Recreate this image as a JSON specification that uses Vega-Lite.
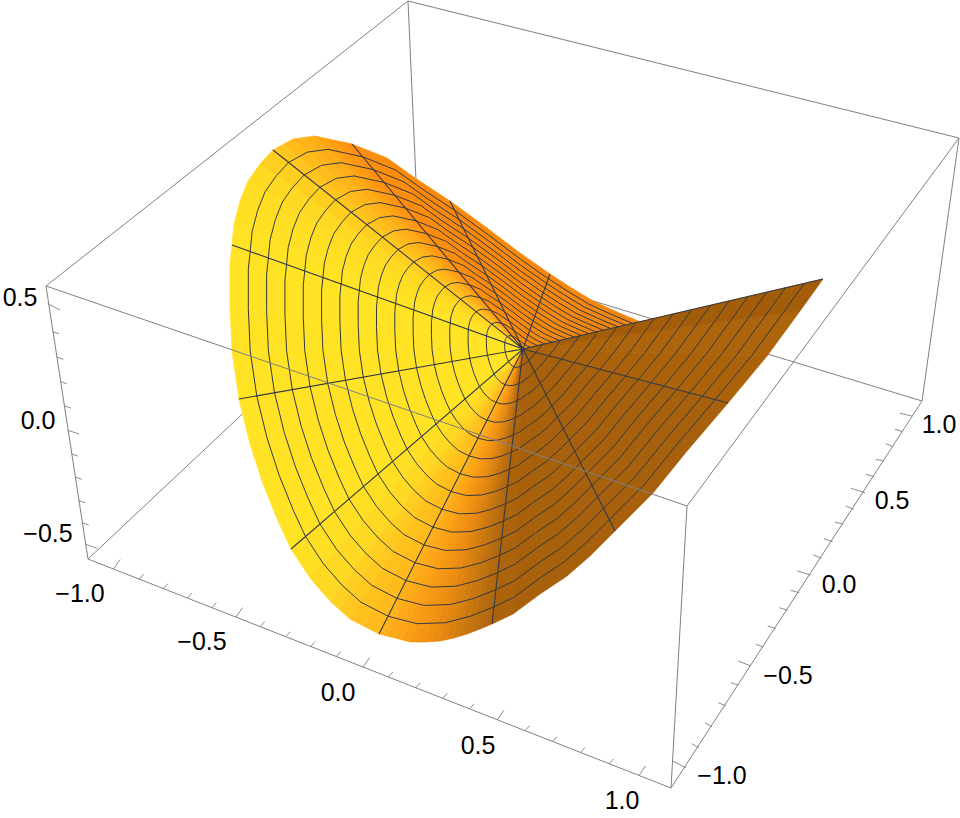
{"$schema":"https://vega.github.io/schema/vega-lite/v6.json","width":960,"height":818,"padding":0,"background":"white","config":{"view":{"stroke":null}},
"datasets":{
"ring":[{"type":"Feature","properties":{},"geometry":{"type":"LineString","coordinates":[[117,-27.3],[94,-37],[70,-48],[47,-62],[27,-75],[-3,-96],[-36,-121],[-73,-148],[-108,-171],[-136,-191],[-171,-205],[-208,-213],[-230,-210],[-250,-199],[-263,-185],[-275,-168],[-283,-148],[-289,-125],[-291,-104],[-293,-85],[-293,-43],[-291,2],[-284,50],[-273,95],[-260,135],[-245,172],[-232,200],[-213,229],[-193,252],[-173,270],[-144,285],[-113,293],[-83,292],[-56,285],[-31,275],[-10,265],[17,245],[44,227],[67,207],[92,182],[130,144],[164,102],[205,54],[244,7],[277,-38],[300,-70]]}}],
"spokes":[{"type":"Feature","properties":{},"geometry":{"type":"MultiLineString","coordinates":[[[0,0],[27,-75]],[[0,0],[-73,-148]],[[0,0],[-171,-205]],[[0,0],[-250,-199]],[[0,0],[-291,-104]],[[0,0],[-284,50]],[[0,0],[-232,200]],[[0,0],[-144,285]],[[0,0],[-31,275]],[[0,0],[92,182]],[[0,0],[205,54]],[[0,0],[300,-70]]]}}],
"wedges":[
{"type":"Feature","properties":{"c":"#F08510"},"geometry":{"type":"Polygon","coordinates":[[[0,0],[117,-27.3],[94,-37],[0,0]]]}},
{"type":"Feature","properties":{"c":"#F2860F"},"geometry":{"type":"Polygon","coordinates":[[[0,0],[94,-37],[70,-48],[0,0]]]}},
{"type":"Feature","properties":{"c":"#F4870E"},"geometry":{"type":"Polygon","coordinates":[[[0,0],[70,-48],[47,-62],[0,0]]]}},
{"type":"Feature","properties":{"c":"#F5870D"},"geometry":{"type":"Polygon","coordinates":[[[0,0],[47,-62],[27,-75],[0,0]]]}},
{"type":"Feature","properties":{"c":"#F7880C"},"geometry":{"type":"Polygon","coordinates":[[[0,0],[27,-75],[-3,-96],[0,0]]]}},
{"type":"Feature","properties":{"c":"#F8880C"},"geometry":{"type":"Polygon","coordinates":[[[0,0],[-3,-96],[-36,-121],[0,0]]]}},
{"type":"Feature","properties":{"c":"#F9880B"},"geometry":{"type":"Polygon","coordinates":[[[0,0],[-36,-121],[-73,-148],[0,0]]]}},
{"type":"Feature","properties":{"c":"#FA890B"},"geometry":{"type":"Polygon","coordinates":[[[0,0],[-73,-148],[-108,-171],[0,0]]]}},
{"type":"Feature","properties":{"c":"#FB8A0B"},"geometry":{"type":"Polygon","coordinates":[[[0,0],[-108,-171],[-136,-191],[0,0]]]}},
{"type":"Feature","properties":{"c":"#FD8D0C"},"geometry":{"type":"Polygon","coordinates":[[[0,0],[-136,-191],[-171,-205],[0,0]]]}},
{"type":"Feature","properties":{"c":"#FE900D"},"geometry":{"type":"Polygon","coordinates":[[[0,0],[-171,-205],[-180.5,-207],[0,0]]]}},
{"type":"Feature","properties":{"c":"#FF960F"},"geometry":{"type":"Polygon","coordinates":[[[0,0],[-180.5,-207],[-190,-209],[0,0]]]}},
{"type":"Feature","properties":{"c":"#FF9D11"},"geometry":{"type":"Polygon","coordinates":[[[0,0],[-190,-209],[-199,-211],[0,0]]]}},
{"type":"Feature","properties":{"c":"#FFA514"},"geometry":{"type":"Polygon","coordinates":[[[0,0],[-199,-211],[-208,-213],[0,0]]]}},
{"type":"Feature","properties":{"c":"#FFAD16"},"geometry":{"type":"Polygon","coordinates":[[[0,0],[-208,-213],[-219,-211.5],[0,0]]]}},
{"type":"Feature","properties":{"c":"#FFB519"},"geometry":{"type":"Polygon","coordinates":[[[0,0],[-219,-211.5],[-230,-210],[0,0]]]}},
{"type":"Feature","properties":{"c":"#FFBC1B"},"geometry":{"type":"Polygon","coordinates":[[[0,0],[-230,-210],[-240,-204.5],[0,0]]]}},
{"type":"Feature","properties":{"c":"#FFC41E"},"geometry":{"type":"Polygon","coordinates":[[[0,0],[-240,-204.5],[-250,-199],[0,0]]]}},
{"type":"Feature","properties":{"c":"#FFCF20"},"geometry":{"type":"Polygon","coordinates":[[[0,0],[-250,-199],[-263,-185],[0,0]]]}},
{"type":"Feature","properties":{"c":"#FFD822"},"geometry":{"type":"Polygon","coordinates":[[[0,0],[-263,-185],[-275,-168],[0,0]]]}},
{"type":"Feature","properties":{"c":"#FFDD23"},"geometry":{"type":"Polygon","coordinates":[[[0,0],[-275,-168],[-283,-148],[0,0]]]}},
{"type":"Feature","properties":{"c":"#FFE024"},"geometry":{"type":"Polygon","coordinates":[[[0,0],[-283,-148],[-289,-125],[0,0]]]}},
{"type":"Feature","properties":{"c":"#FFE324"},"geometry":{"type":"Polygon","coordinates":[[[0,0],[-289,-125],[-291,-104],[-293,-85],[-293,-43],[-291,2],[-284,50],[-273,95],[-260,135],[-245,172],[-232,200],[0,0]]]}},
{"type":"Feature","properties":{"c":"#FFDF24"},"geometry":{"type":"Polygon","coordinates":[[[0,0],[-232,200],[-213,229],[0,0]]]}},
{"type":"Feature","properties":{"c":"#FFD823"},"geometry":{"type":"Polygon","coordinates":[[[0,0],[-213,229],[-193,252],[0,0]]]}},
{"type":"Feature","properties":{"c":"#FFCF21"},"geometry":{"type":"Polygon","coordinates":[[[0,0],[-193,252],[-183,261],[0,0]]]}},
{"type":"Feature","properties":{"c":"#FFC91F"},"geometry":{"type":"Polygon","coordinates":[[[0,0],[-183,261],[-173,270],[0,0]]]}},
{"type":"Feature","properties":{"c":"#FFC11E"},"geometry":{"type":"Polygon","coordinates":[[[0,0],[-173,270],[-158.5,277.5],[0,0]]]}},
{"type":"Feature","properties":{"c":"#FFBA1C"},"geometry":{"type":"Polygon","coordinates":[[[0,0],[-158.5,277.5],[-144,285],[0,0]]]}},
{"type":"Feature","properties":{"c":"#FEB11B"},"geometry":{"type":"Polygon","coordinates":[[[0,0],[-144,285],[-136,287],[0,0]]]}},
{"type":"Feature","properties":{"c":"#FDAA19"},"geometry":{"type":"Polygon","coordinates":[[[0,0],[-136,287],[-128,289],[0,0]]]}},
{"type":"Feature","properties":{"c":"#FCA517"},"geometry":{"type":"Polygon","coordinates":[[[0,0],[-128,289],[-120.5,291],[0,0]]]}},
{"type":"Feature","properties":{"c":"#FA9F15"},"geometry":{"type":"Polygon","coordinates":[[[0,0],[-120.5,291],[-113,293],[0,0]]]}},
{"type":"Feature","properties":{"c":"#F89913"},"geometry":{"type":"Polygon","coordinates":[[[0,0],[-113,293],[-105.5,293],[0,0]]]}},
{"type":"Feature","properties":{"c":"#F49412"},"geometry":{"type":"Polygon","coordinates":[[[0,0],[-105.5,293],[-98,293],[0,0]]]}},
{"type":"Feature","properties":{"c":"#EF9011"},"geometry":{"type":"Polygon","coordinates":[[[0,0],[-98,293],[-90.5,292.5],[0,0]]]}},
{"type":"Feature","properties":{"c":"#E98B11"},"geometry":{"type":"Polygon","coordinates":[[[0,0],[-90.5,292.5],[-83,292],[0,0]]]}},
{"type":"Feature","properties":{"c":"#E28610"},"geometry":{"type":"Polygon","coordinates":[[[0,0],[-83,292],[-76,290.5],[0,0]]]}},
{"type":"Feature","properties":{"c":"#DA8210"},"geometry":{"type":"Polygon","coordinates":[[[0,0],[-76,290.5],[-69,289],[0,0]]]}},
{"type":"Feature","properties":{"c":"#D37D0F"},"geometry":{"type":"Polygon","coordinates":[[[0,0],[-69,289],[-62.5,287],[0,0]]]}},
{"type":"Feature","properties":{"c":"#CB790F"},"geometry":{"type":"Polygon","coordinates":[[[0,0],[-62.5,287],[-56,285],[0,0]]]}},
{"type":"Feature","properties":{"c":"#C4740E"},"geometry":{"type":"Polygon","coordinates":[[[0,0],[-56,285],[-49.5,282.5],[0,0]]]}},
{"type":"Feature","properties":{"c":"#BC6F0E"},"geometry":{"type":"Polygon","coordinates":[[[0,0],[-49.5,282.5],[-43,280],[0,0]]]}},
{"type":"Feature","properties":{"c":"#B66A0D"},"geometry":{"type":"Polygon","coordinates":[[[0,0],[-43,280],[-37,277.5],[0,0]]]}},
{"type":"Feature","properties":{"c":"#B0660D"},"geometry":{"type":"Polygon","coordinates":[[[0,0],[-37,277.5],[-31,275],[0,0]]]}},
{"type":"Feature","properties":{"c":"#AB630C"},"geometry":{"type":"Polygon","coordinates":[[[0,0],[-31,275],[-10,265],[0,0]]]}},
{"type":"Feature","properties":{"c":"#A8600B"},"geometry":{"type":"Polygon","coordinates":[[[0,0],[-10,265],[17,245],[0,0]]]}},
{"type":"Feature","properties":{"c":"#A7600B"},"geometry":{"type":"Polygon","coordinates":[[[0,0],[17,245],[44,227],[67,207],[92,182],[130,144],[164,102],[205,54],[0,0]]]}},
{"type":"Feature","properties":{"c":"#AB620B"},"geometry":{"type":"Polygon","coordinates":[[[0,0],[205,54],[244,7],[0,0]]]}},
{"type":"Feature","properties":{"c":"#AD640A"},"geometry":{"type":"Polygon","coordinates":[[[0,0],[244,7],[277,-38],[0,0]]]}},
{"type":"Feature","properties":{"c":"#A35C08"},"geometry":{"type":"Polygon","coordinates":[[[0,0],[277,-38],[300,-70],[0,0]]]}}
],
"backEdges":[{"x":408,"y":0,"x2":419,"y2":247},{"x":419,"y":247,"x2":88,"y2":558},{"x":419,"y":247,"x2":922,"y2":400}],
"frontEdges":[{"x":46,"y":285,"x2":408,"y2":0},{"x":408,"y":0,"x2":959,"y2":137},{"x":46,"y":285,"x2":88,"y2":558},{"x":46,"y":285,"x2":687,"y2":505},{"x":687,"y":505,"x2":959,"y2":137},{"x":687,"y":505,"x2":671,"y2":787},{"x":88,"y":558,"x2":671,"y2":787},{"x":671,"y":787,"x2":922,"y2":400},{"x":922,"y":400,"x2":959,"y2":137}],
"ticks":[
{"x":47.7,"y":302.7,"x2":60,"y2":309},{"x":52.7,"y":330.7,"x2":59,"y2":332.7},{"x":56.7,"y":356,"x2":63.3,"y2":358.3},{"x":60.7,"y":380.7,"x2":66.7,"y2":382.7},{"x":64.3,"y":405,"x2":71,"y2":407},{"x":67.7,"y":429.3,"x2":79.3,"y2":433},{"x":71,"y":452.7,"x2":77.7,"y2":455},{"x":75,"y":476,"x2":81.7,"y2":478.3},{"x":78.3,"y":499.3,"x2":85,"y2":501.7},{"x":82,"y":521.7,"x2":88.7,"y2":524},{"x":85.7,"y":543.3,"x2":97.3,"y2":547.3},
{"x":113.6,"y":568,"x2":120.1,"y2":558.5},{"x":139.2,"y":578.1,"x2":143.7,"y2":573.1},{"x":163.3,"y":587.6,"x2":167.8,"y2":582.6},{"x":187.4,"y":597,"x2":191.9,"y2":592},{"x":211.9,"y":606.7,"x2":216.4,"y2":601.7},{"x":236,"y":616.1,"x2":242.5,"y2":606.6},{"x":260.2,"y":625.6,"x2":264.7,"y2":620.6},{"x":285.8,"y":635.7,"x2":290.3,"y2":630.7},{"x":310.7,"y":645.5,"x2":315.2,"y2":640.5},{"x":336.3,"y":655.5,"x2":340.8,"y2":650.5},{"x":363.1,"y":666.1,"x2":369.6,"y2":656.6},{"x":388.4,"y":676,"x2":392.9,"y2":671},{"x":415.9,"y":686.8,"x2":420.4,"y2":681.8},{"x":442.7,"y":697.3,"x2":447.2,"y2":692.3},{"x":469.5,"y":707.9,"x2":474,"y2":702.9},{"x":497.4,"y":718.8,"x2":503.9,"y2":709.3},{"x":525,"y":729.7,"x2":529.5,"y2":724.7},{"x":552.5,"y":740.5,"x2":557,"y2":735.5},{"x":580.5,"y":751.5,"x2":585,"y2":746.5},{"x":609.2,"y":762.7,"x2":613.7,"y2":757.7},{"x":639,"y":774.4,"x2":645.5,"y2":764.9},
{"x":686,"y":766.7,"x2":672.7,"y2":760},{"x":699,"y":746.7,"x2":691.7,"y2":742.7},{"x":711.7,"y":725.7,"x2":705,"y2":721.7},{"x":726,"y":705,"x2":718.3,"y2":701.7},{"x":738.3,"y":684,"x2":730.7,"y2":681.7},{"x":751,"y":665,"x2":738.3,"y2":660},{"x":763.3,"y":646,"x2":755.7,"y2":643.3},{"x":775.7,"y":627.3,"x2":767.7,"y2":625},{"x":787.7,"y":609.3,"x2":779.3,"y2":606.7},{"x":799.3,"y":591.7,"x2":790.7,"y2":589.3},{"x":810.7,"y":574,"x2":797.3,"y2":570},{"x":821.7,"y":557.3,"x2":813.3,"y2":554},{"x":832.7,"y":540.7,"x2":824,"y2":537.7},{"x":843.3,"y":523.3,"x2":835,"y2":521},{"x":854,"y":508.3,"x2":845.7,"y2":505},{"x":865,"y":491.7,"x2":851,"y2":487.3},{"x":874.3,"y":475.7,"x2":866,"y2":473.3},{"x":884,"y":460,"x2":876,"y2":458.3},{"x":893.3,"y":445.7,"x2":885.7,"y2":442.7},{"x":902.7,"y":430.7,"x2":895,"y2":428.3},{"x":911.7,"y":415,"x2":900,"y2":412.3}
],
"labels":[{"x":20,"y":297,"t":"0.5"},{"x":38,"y":420,"t":"0.0"},{"x":48,"y":533,"t":"−0.5"},{"x":80,"y":593,"t":"−1.0"},{"x":202,"y":641,"t":"−0.5"},{"x":338,"y":692,"t":"0.0"},{"x":478,"y":745,"t":"0.5"},{"x":622,"y":800,"t":"1.0"},{"x":939,"y":424,"t":"1.0"},{"x":892,"y":500,"t":"0.5"},{"x":839,"y":584,"t":"0.0"},{"x":788,"y":675,"t":"−0.5"},{"x":722,"y":775,"t":"−1.0"}]
},
"layer":[
{"data":{"name":"backEdges"},"mark":{"type":"rule","color":"#808080","strokeWidth":1},"encoding":{"x":{"field":"x","type":"quantitative","axis":null,"scale":{"domain":[0,960],"nice":false,"zero":false}},"y":{"field":"y","type":"quantitative","axis":null,"scale":{"domain":[0,818],"reverse":true,"nice":false,"zero":false}},"x2":{"field":"x2"},"y2":{"field":"y2"}}},
{"data":{"name":"wedges"},"mark":{"type":"geoshape","strokeWidth":0.7},"projection":{"type":"identity","scale":1,"translate":[523,348]},"encoding":{"fill":{"field":"properties.c","type":"nominal","scale":null,"legend":null},"stroke":{"field":"properties.c","type":"nominal","scale":null,"legend":null}}},
{"data":{"name":"ring"},"mark":{"type":"geoshape","filled":false,"stroke":"#333a44","strokeWidth":1},"projection":{"type":"identity","scale":0.0625,"translate":[523,348],"coefficient":1}},
{"data":{"name":"ring"},"mark":{"type":"geoshape","filled":false,"stroke":"#333a44","strokeWidth":1},"projection":{"type":"identity","scale":0.125,"translate":[523,348],"coefficient":2}},
{"data":{"name":"ring"},"mark":{"type":"geoshape","filled":false,"stroke":"#333a44","strokeWidth":1},"projection":{"type":"identity","scale":0.1875,"translate":[523,348],"coefficient":3}},
{"data":{"name":"ring"},"mark":{"type":"geoshape","filled":false,"stroke":"#333a44","strokeWidth":1},"projection":{"type":"identity","scale":0.25,"translate":[523,348],"coefficient":4}},
{"data":{"name":"ring"},"mark":{"type":"geoshape","filled":false,"stroke":"#333a44","strokeWidth":1},"projection":{"type":"identity","scale":0.3125,"translate":[523,348],"coefficient":5}},
{"data":{"name":"ring"},"mark":{"type":"geoshape","filled":false,"stroke":"#333a44","strokeWidth":1},"projection":{"type":"identity","scale":0.375,"translate":[523,348],"coefficient":6}},
{"data":{"name":"ring"},"mark":{"type":"geoshape","filled":false,"stroke":"#333a44","strokeWidth":1},"projection":{"type":"identity","scale":0.4375,"translate":[523,348],"coefficient":7}},
{"data":{"name":"ring"},"mark":{"type":"geoshape","filled":false,"stroke":"#333a44","strokeWidth":1},"projection":{"type":"identity","scale":0.5,"translate":[523,348],"coefficient":8}},
{"data":{"name":"ring"},"mark":{"type":"geoshape","filled":false,"stroke":"#333a44","strokeWidth":1},"projection":{"type":"identity","scale":0.5625,"translate":[523,348],"coefficient":9}},
{"data":{"name":"ring"},"mark":{"type":"geoshape","filled":false,"stroke":"#333a44","strokeWidth":1},"projection":{"type":"identity","scale":0.625,"translate":[523,348],"coefficient":10}},
{"data":{"name":"ring"},"mark":{"type":"geoshape","filled":false,"stroke":"#333a44","strokeWidth":1},"projection":{"type":"identity","scale":0.6875,"translate":[523,348],"coefficient":11}},
{"data":{"name":"ring"},"mark":{"type":"geoshape","filled":false,"stroke":"#333a44","strokeWidth":1},"projection":{"type":"identity","scale":0.75,"translate":[523,348],"coefficient":12}},
{"data":{"name":"ring"},"mark":{"type":"geoshape","filled":false,"stroke":"#333a44","strokeWidth":1},"projection":{"type":"identity","scale":0.8125,"translate":[523,348],"coefficient":13}},
{"data":{"name":"ring"},"mark":{"type":"geoshape","filled":false,"stroke":"#333a44","strokeWidth":1},"projection":{"type":"identity","scale":0.875,"translate":[523,348],"coefficient":14}},
{"data":{"name":"ring"},"mark":{"type":"geoshape","filled":false,"stroke":"#333a44","strokeWidth":1},"projection":{"type":"identity","scale":0.9375,"translate":[523,348],"coefficient":15}},
{"data":{"name":"spokes"},"mark":{"type":"geoshape","filled":false,"stroke":"#333a44","strokeWidth":1.1},"projection":{"type":"identity","scale":1,"translate":[523,348]}},
{"data":{"name":"frontEdges"},"mark":{"type":"rule","color":"#808080","strokeWidth":1},"encoding":{"x":{"field":"x","type":"quantitative","axis":null},"y":{"field":"y","type":"quantitative","axis":null},"x2":{"field":"x2"},"y2":{"field":"y2"}}},
{"data":{"name":"ticks"},"mark":{"type":"rule","color":"#808080","strokeWidth":0.9},"encoding":{"x":{"field":"x","type":"quantitative","axis":null},"y":{"field":"y","type":"quantitative","axis":null},"x2":{"field":"x2"},"y2":{"field":"y2"}}},
{"data":{"name":"labels"},"mark":{"type":"text","font":"Liberation Sans","fontSize":25,"color":"#000000","align":"center","baseline":"middle"},"encoding":{"x":{"field":"x","type":"quantitative","axis":null},"y":{"field":"y","type":"quantitative","axis":null},"text":{"field":"t"}}}
]}
